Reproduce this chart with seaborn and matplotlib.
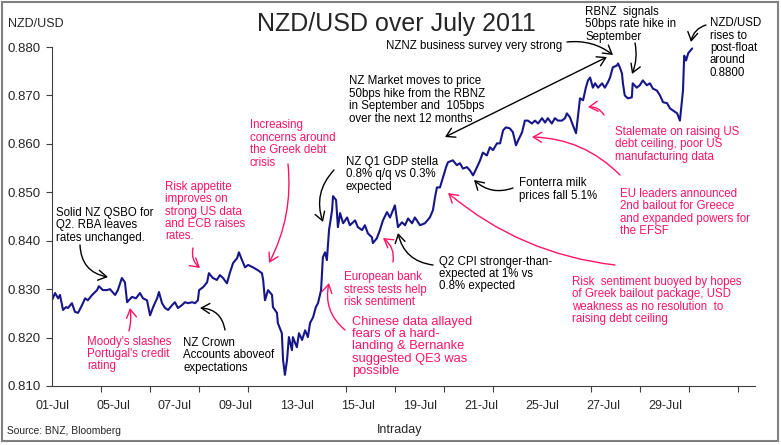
import numpy as np
import pandas as pd
import matplotlib
matplotlib.use("Agg")
import matplotlib.pyplot as plt
import matplotlib.patches as patches
import seaborn as sns

# intraday NZD/USD, x in trading sessions since 01-Jul
session = [0.00, 0.10, 0.20, 0.26, 0.36, 0.46, 0.52, 0.65, 0.75, 0.85, 0.98, 1.08, 1.17, 1.31,
           1.47, 1.53, 1.66, 1.79, 1.89, 2.06, 2.15, 2.28, 2.38, 2.45, 2.61, 2.74, 2.87, 2.97,
           3.10, 3.20, 3.30, 3.43, 3.49, 3.59, 3.69, 3.79, 3.92, 4.01, 4.11, 4.24, 4.34, 4.44,
           4.57, 4.67, 4.76, 4.80, 4.93, 5.06, 5.12, 5.25, 5.38, 5.48, 5.58, 5.71, 5.81, 5.91,
           6.04, 6.10, 6.20, 6.30, 6.40, 6.56, 6.72, 6.85, 6.89, 6.95, 7.05, 7.18, 7.21, 7.34,
           7.37, 7.50, 7.54, 7.60, 7.67, 7.73, 7.83, 7.86, 7.99, 8.06, 8.16, 8.26, 8.35, 8.42,
           8.52, 8.61, 8.68, 8.78, 8.84, 8.91, 8.97, 9.04, 9.14, 9.17, 9.27, 9.33, 9.40, 9.50,
           9.63, 9.72, 9.89, 9.98, 10.12, 10.21, 10.31, 10.44, 10.47, 10.60, 10.70, 10.80,
           10.93, 11.03, 11.19, 11.29, 11.42, 11.52, 11.62, 11.75, 11.84, 12.01, 12.17, 12.33,
           12.43, 12.50, 12.56, 12.66, 12.76, 12.86, 12.92, 13.08, 13.21, 13.31, 13.41, 13.54,
           13.64, 13.74, 13.87, 13.97, 14.06, 14.19, 14.29, 14.39, 14.52, 14.62, 14.72, 14.81,
           14.94, 15.04, 15.14, 15.21, 15.34, 15.43, 15.53, 15.66, 15.76, 15.86, 15.99, 16.09,
           16.18, 16.31, 16.41, 16.51, 16.64, 16.74, 16.80, 16.90, 17.00, 17.10, 17.16, 17.23,
           17.33, 17.42, 17.49, 17.56, 17.65, 17.72, 17.82, 17.95, 18.04, 18.14, 18.21, 18.30,
           18.44, 18.47, 18.53, 18.60, 18.63, 18.69, 18.79, 18.92, 18.95, 19.08, 19.18, 19.28,
           19.41, 19.51, 19.61, 19.74, 19.84, 19.94, 20.07, 20.17, 20.26, 20.40, 20.49, 20.59,
           20.63, 20.69, 20.76, 20.89]
nzdusd = [0.8277, 0.8292, 0.8281, 0.8288, 0.8257, 0.8263, 0.8261, 0.8271, 0.8253, 0.8251, 0.8267,
          0.8281, 0.8277, 0.8288, 0.8298, 0.8306, 0.8298, 0.8298, 0.8300, 0.8288, 0.8298, 0.8323,
          0.8314, 0.8273, 0.8284, 0.8281, 0.8292, 0.8281, 0.8277, 0.8246, 0.8263, 0.8281, 0.8294,
          0.8271, 0.8261, 0.8257, 0.8267, 0.8273, 0.8261, 0.8267, 0.8273, 0.8271, 0.8273, 0.8271,
          0.8277, 0.8298, 0.8304, 0.8314, 0.8333, 0.8323, 0.8319, 0.8329, 0.8323, 0.8312, 0.8335,
          0.8354, 0.8364, 0.8376, 0.8360, 0.8345, 0.8350, 0.8345, 0.8339, 0.8333, 0.8319, 0.8277,
          0.8298, 0.8288, 0.8263, 0.8251, 0.8230, 0.8209, 0.8154, 0.8123, 0.8154, 0.8201, 0.8174,
          0.8201, 0.8180, 0.8209, 0.8195, 0.8215, 0.8201, 0.8230, 0.8242, 0.8263, 0.8271, 0.8298,
          0.8366, 0.8376, 0.8360, 0.8422, 0.8463, 0.8492, 0.8484, 0.8428, 0.8457, 0.8436, 0.8448,
          0.8432, 0.8442, 0.8428, 0.8422, 0.8432, 0.8415, 0.8407, 0.8395, 0.8405, 0.8422, 0.8442,
          0.8459, 0.8448, 0.8473, 0.8428, 0.8438, 0.8432, 0.8446, 0.8436, 0.8448, 0.8432, 0.8436,
          0.8448, 0.8463, 0.8490, 0.8510, 0.8510, 0.8531, 0.8552, 0.8562, 0.8566, 0.8556, 0.8560,
          0.8549, 0.8552, 0.8545, 0.8535, 0.8552, 0.8566, 0.8582, 0.8576, 0.8593, 0.8587, 0.8601,
          0.8601, 0.8628, 0.8634, 0.8632, 0.8624, 0.8597, 0.8607, 0.8624, 0.8648, 0.8648, 0.8642,
          0.8648, 0.8642, 0.8653, 0.8644, 0.8653, 0.8642, 0.8653, 0.8648, 0.8648, 0.8653, 0.8663,
          0.8655, 0.8638, 0.8622, 0.8655, 0.8694, 0.8690, 0.8716, 0.8731, 0.8737, 0.8716, 0.8725,
          0.8716, 0.8725, 0.8716, 0.8727, 0.8737, 0.8758, 0.8762, 0.8766, 0.8758, 0.8745, 0.8725,
          0.8700, 0.8694, 0.8696, 0.8725, 0.8716, 0.8721, 0.8731, 0.8721, 0.8725, 0.8714, 0.8710,
          0.8700, 0.8686, 0.8684, 0.8673, 0.8669, 0.8663, 0.8648, 0.8710, 0.8782, 0.8772, 0.8787,
          0.8797]

date_labels = ["01-Jul", "05-Jul", "07-Jul", "09-Jul", "13-Jul", "15-Jul",
               "19-Jul", "21-Jul", "25-Jul", "27-Jul", "29-Jul"]
y_ticks = [0.810, 0.820, 0.830, 0.840, 0.850, 0.860, 0.870, 0.880]

BLACK = "#000000"
PINK = "#FF1464"
NAVY = "#16168A"

W, H = 781, 445


def fxy(x, y):
    # pixel position (from top-left) -> figure fraction
    return (x / W, 1 - y / H)


# text, left x, centre y, colour, size
notes = [
    ("Solid NZ QSBO for\nQ2. RBA leaves\nrates unchanged.", 56, 225.5, BLACK, 8.3),
    ("NZ Crown\nAccounts aboveof\nexpectations", 183, 355.5, BLACK, 8.3),
    ("NZ Q1 GDP stella\n0.8% q/q vs 0.3%\nexpected", 346, 174.5, BLACK, 8.3),
    ("NZ Market moves to price\n50bps hike from the RBNZ\nin September and  105bps\nover the next 12 months",
     349, 100, BLACK, 8.3),
    ("NZNZ business survey very strong", 386, 46, BLACK, 8.3),
    ("RBNZ  signals\n50bps rate hike in\nSeptember", 585, 24.5, BLACK, 8.3),
    ("NZD/USD\nrises to\npost-float\naround\n0.8800", 710, 48, BLACK, 8.3),
    ("Fonterra milk\nprices fall 5.1%", 519, 189.5, BLACK, 8.3),
    ("Q2 CPI stronger-than-\nexpected at 1% vs\n0.8% expected", 439, 274, BLACK, 8.3),
    ("Moody's slashes\nPortugal's credit\nrating", 87, 354, PINK, 8.3),
    ("Risk appetite\nimproves on\nstrong US data\nand ECB raises\nrates.", 165, 211.5, PINK, 8.3),
    ("Increasing\nconcerns around\nthe Greek debt\ncrisis", 250, 144, PINK, 8.3),
    ("European bank\nstress tests help\nrisk sentiment", 344, 289.5, PINK, 8.3),
    ("Chinese data allayed\nfears of a hard-\nlanding & Bernanke\nsuggested QE3 was\npossible",
     352, 346.5, PINK, 9.3),
    ("Stalemate on raising US\ndebt ceiling, poor US\nmanufacturing data", 615, 144.5, PINK, 8.3),
    ("EU leaders announced\n2nd bailout for Greece\nand expanded powers for\nthe EFSF", 620, 212.5, PINK, 8.3),
    ("Risk  sentiment buoyed by hopes\nof Greek bailout package, USD\nweakness as no resolution  to\nraising debt ceiling",
     572, 300.5, PINK, 8.3),
]

# tail, head, colour, curvature, style
arrows = [
    ((80, 245), (108, 277), BLACK, 0.4, "->"),
    ((225, 330), (200, 308), BLACK, 0.4, "->"),
    ((334, 170), (323, 222), BLACK, 0.3, "->"),
    ((445, 137), (607, 57), BLACK, 0.0, "<->"),
    ((567, 42), (613, 55), BLACK, -0.2, "->"),
    ((635, 43), (632, 74), BLACK, -0.15, "->"),
    ((706, 25), (691, 42), BLACK, 0.3, "->"),
    ((513, 188), (474, 180), BLACK, -0.3, "->"),
    ((433, 265), (398, 233), BLACK, -0.35, "->"),
    ((129, 331), (130, 308), PINK, 0.1, "->"),
    ((193, 248), (200, 268), PINK, 0.3, "->"),
    ((288, 164), (269, 263), PINK, -0.15, "->"),
    ((393, 262), (383, 238), PINK, 0.3, "->"),
    ((345, 330), (329, 283), PINK, -0.3, "->"),
    ((604, 115), (588, 107), PINK, 0.3, "->"),
    ((620, 175), (532, 137), PINK, 0.2, "->"),
    ((615, 265), (448, 193), PINK, -0.15, "->"),
]

sns.set_theme(style="white")
plt.rcParams["font.family"] = ["Liberation Sans", "DejaVu Sans"]

df = pd.DataFrame({"session": session, "nzdusd": nzdusd})

fig = plt.figure(figsize=(W / 100, H / 100), dpi=100)
ax = fig.add_axes([52 / W, 59 / H, 703 / W, 339 / H])
sns.lineplot(data=df, x="session", y="nzdusd", ax=ax, color=NAVY, linewidth=1.5)

ax.set_xlim(0, 22.94)
ax.set_ylim(0.810, 0.880)
ax.set_xlabel("")
ax.set_ylabel("")
sns.despine(ax=ax)
for side in ["left", "bottom"]:
    ax.spines[side].set_color("#404040")
    ax.spines[side].set_linewidth(0.8)

ax.set_yticks(y_ticks)
ax.set_yticklabels(["{:.3f}".format(v) for v in y_ticks], fontsize=9.5)
ax.tick_params(axis="y", direction="out", length=4, width=0.8, color="#404040", pad=4, left=True)

ax.set_xticks(np.arange(0, 2 * len(date_labels), 2))
ax.set_xticklabels(date_labels, fontsize=9)
ax.set_xticks(np.arange(0, 22.9, 1.6), minor=True)
ax.tick_params(axis="x", which="major", length=0, pad=10)
ax.tick_params(axis="x", which="minor", direction="out", length=4, width=0.8, color="#404040", bottom=True)
ax.grid(False)

fig.text(*fxy(396, 24), "NZD/USD over July 2011", fontsize=18, ha="center", va="center")
fig.text(*fxy(8, 24), "NZD/USD", fontsize=9, ha="left", va="center")
fig.text(*fxy(400, 430), "Intraday", fontsize=9, ha="center", va="center")
fig.text(*fxy(7, 431), "Source: BNZ, Bloomberg", fontsize=7.4, ha="left", va="center")

for text, x, y, col, size in notes:
    fig.text(*fxy(x, y), text, fontsize=size, color=col, ha="left", va="center", linespacing=1.05)

for tail, head, col, rad, style in arrows:
    ax.annotate("", xy=fxy(*head), xytext=fxy(*tail),
                xycoords="figure fraction", textcoords="figure fraction",
                arrowprops=dict(arrowstyle=style + ",head_length=0.5,head_width=0.3", color=col, lw=1.0,
                                connectionstyle="arc3,rad={}".format(rad),
                                shrinkA=0, shrinkB=0, mutation_scale=12))

fig.add_artist(patches.Rectangle((0.003, 0.008), 0.993, 0.987, transform=fig.transFigure,
                                 fill=False, edgecolor="#808080", linewidth=1.5))

fig.savefig("out.png", dpi=100)
plt.close(fig)
